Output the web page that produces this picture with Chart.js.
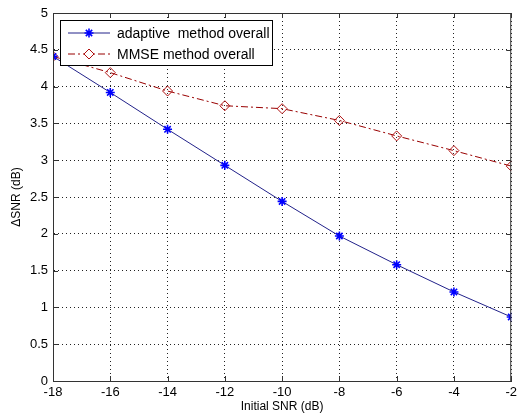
<!DOCTYPE html>
<html>
<head>
<meta charset="utf-8">
<script src="https://cdn.jsdelivr.net/npm/chart.js@4"></script>
<style>
  html, body { margin: 0; padding: 0; background: #fff; }
  #wrap { width: 521px; height: 418px; }
</style>
</head>
<body>
<div id="wrap"><canvas id="myChart" width="521" height="418"></canvas></div>
<script>
// x axis: initial SNR (dB)
let snrIn = [-18, -16, -14, -12, -10, -8, -6, -4, -2]
// delta SNR
let adaptive = [4.41, 3.92, 3.42, 2.93, 2.44, 1.97, 1.58, 1.21, 0.87]
let mmse = [4.41, 4.19, 3.94, 3.74, 3.70, 3.54, 3.33, 3.13, 2.92]

let seriesNames = ["adaptive  method overall", "MMSE method overall"]

let xTicks = {"min": -18, "max": -2, "step": 2}
let yTicks = {"min": 0, "max": 5, "step": 0.5}

const font = "'Liberation Sans', Arial, sans-serif"

function toPoints(xs, ys) {
  return xs.map((x, i) => ({x: x, y: ys[i]}))
}

// Box round the axes with matlab style inward ticks
const boxPlugin = {
  id: 'box',
  afterDraw(chart) {
    const ctx = chart.ctx
    const a = chart.chartArea
    const xs = chart.scales.x
    const ys = chart.scales.y
    ctx.save()
    ctx.strokeStyle = '#333'
    ctx.lineWidth = 1
    ctx.strokeRect(a.left + 0.5, a.top + 0.5, a.right - a.left - 1, a.bottom - a.top)
    ctx.beginPath()
    xs.ticks.forEach(t => {
      let px = Math.round(xs.getPixelForValue(t.value)) + 0.5
      ctx.moveTo(px, a.bottom); ctx.lineTo(px, a.bottom - 5)
      ctx.moveTo(px, a.top); ctx.lineTo(px, a.top + 5)
    })
    ys.ticks.forEach(t => {
      let py = Math.round(ys.getPixelForValue(t.value)) + 0.5
      ctx.moveTo(a.left, py); ctx.lineTo(a.left + 5, py)
      ctx.moveTo(a.right, py); ctx.lineTo(a.right - 5, py)
    })
    ctx.stroke()
    ctx.restore()
  }
}

// Legend box in the top left corner, like matlab's
const legendPlugin = {
  id: 'boxLegend',
  afterDraw(chart) {
    const ctx = chart.ctx
    const a = chart.chartArea
    const x0 = a.left + 7, y0 = a.top + 7, w = 212, h = 45
    ctx.save()
    ctx.fillStyle = '#fff'
    ctx.fillRect(x0, y0, w, h)
    ctx.strokeStyle = '#000'
    ctx.lineWidth = 1
    ctx.strokeRect(x0 + 0.5, y0 + 0.5, w, h)
    chart.data.datasets.forEach((ds, i) => {
      let cy = y0 + 13 + i * 21
      ctx.strokeStyle = ds.borderColor
      ctx.lineWidth = ds.borderWidth
      ctx.setLineDash(ds.borderDash || [])
      ctx.beginPath()
      ctx.moveTo(x0 + 8, cy); ctx.lineTo(x0 + 50, cy)
      ctx.stroke()
      ctx.setLineDash([])
      ctx.fillStyle = ds.legendFill
      ctx.strokeStyle = ds.pointBorderColor
      ctx.lineWidth = ds.pointBorderWidth
      Chart.helpers.drawPoint(ctx, {
        pointStyle: ds.pointStyle,
        radius: ds.pointRadius,
        borderWidth: ds.pointBorderWidth,
        rotation: 0
      }, x0 + 29, cy)
      ctx.fillStyle = '#000'
      ctx.font = "14px " + font
      ctx.textBaseline = 'middle'
      ctx.fillText(ds.label, x0 + 57, cy + 1)
    })
    ctx.restore()
  }
}

const ctx = document.getElementById('myChart').getContext('2d')
const myChart = new Chart(ctx, {
  type: 'line',
  data: {
    datasets: [{
      label: seriesNames[0],
      data: toPoints(snrIn, adaptive),
      borderColor: '#22228a',
      borderWidth: 1,
      pointStyle: 'star',
      pointRadius: 4.5,
      pointBorderWidth: 1.6,
      pointBorderColor: '#0000ff',
      pointBackgroundColor: '#0000ff',
      legendFill: '#0000ff',
      tension: 0,
      order: 1
    },
    {
      label: seriesNames[1],
      data: toPoints(snrIn, mmse),
      borderColor: '#990000',
      borderWidth: 1,
      borderDash: [7, 3, 2, 3],
      pointStyle: 'rectRot',
      pointRadius: 5,
      pointBorderWidth: 1,
      pointBorderColor: '#b01010',
      pointBackgroundColor: 'rgba(255,255,255,0)',
      legendFill: '#fff',
      tension: 0,
      order: 2
    }]
  },
  options: {
    responsive: false,
    animation: false,
    layout: {
      autoPadding: false,
      padding: {top: 13, right: 1, left: 0, bottom: 0}
    },
    plugins: {
      legend: {display: false},
      tooltip: {enabled: false}
    },
    scales: {
      x: {
        type: 'linear',
        min: xTicks.min,
        max: xTicks.max,
        afterFit: (s) => { s.height = 37 },
        ticks: {
          stepSize: xTicks.step,
          color: '#000',
          padding: 4,
          maxRotation: 0,
          font: {family: font, size: 13},
          callback: (v) => String(v)
        },
        grid: {color: '#222', lineWidth: 1, drawTicks: false},
        border: {display: true, color: '#333', dash: [1, 3]},
        title: {
          display: true,
          text: 'Initial SNR (dB)',
          color: '#000',
          font: {family: font, size: 12},
          padding: {top: 0, bottom: 4}
        }
      },
      y: {
        min: yTicks.min,
        max: yTicks.max,
        afterFit: (s) => { s.width = 53 },
        ticks: {
          stepSize: yTicks.step,
          color: '#000',
          padding: 5,
          font: {family: font, size: 13},
          callback: (v) => String(v)
        },
        grid: {color: '#222', lineWidth: 1, drawTicks: false},
        border: {display: true, color: '#333', dash: [1, 3]},
        title: {
          display: true,
          text: '\u0394SNR (dB)',
          color: '#000',
          font: {family: font, size: 12},
          padding: {top: 9, bottom: 0}
        }
      }
    }
  },
  plugins: [boxPlugin, legendPlugin]
})
</script>
</body>
</html>
